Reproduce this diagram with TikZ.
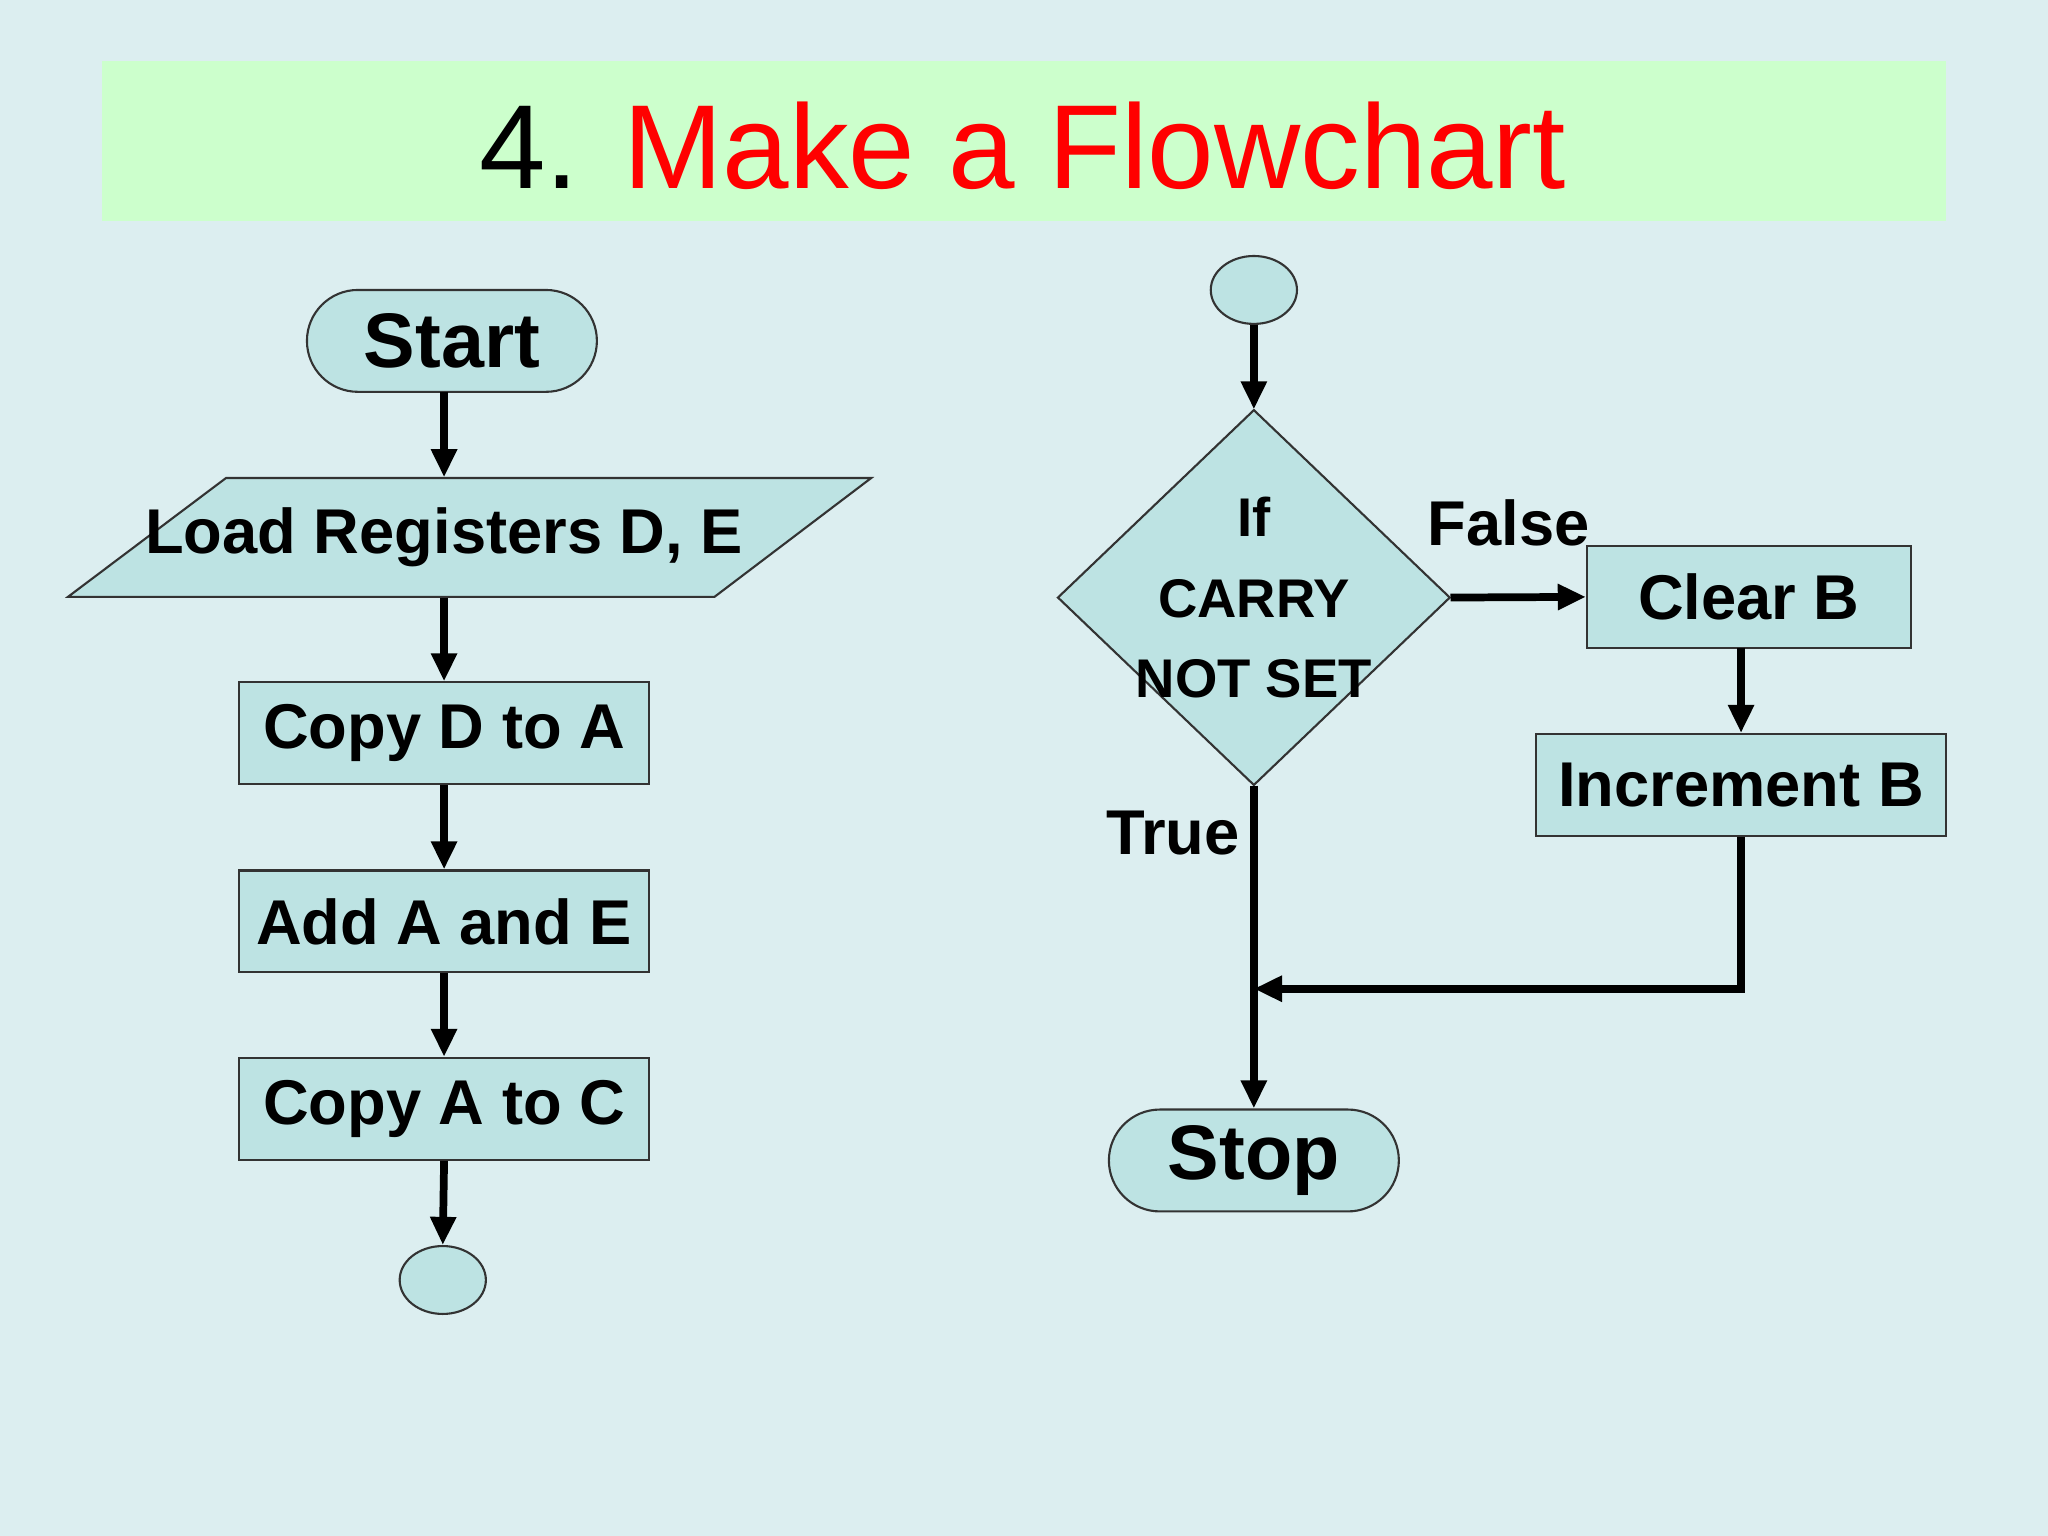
\documentclass[tikz,border=0pt]{standalone}
\usepackage{fontspec}
\setmainfont{Liberation Sans}
\usetikzlibrary{shapes.geometric,arrows.meta}
\definecolor{bg}{HTML}{DCEEF0}
\definecolor{band}{HTML}{CCFFCC}
\definecolor{fillc}{HTML}{BDE3E3}
\begin{document}
\def\u{0.013061cm}
\begin{tikzpicture}[x=0.013061cm,y=-0.013061cm,
  box/.style={draw=black!80,line width=0.6pt,fill=fillc,inner sep=0,font=\bfseries\fontsize{18}{20}\selectfont},
  term/.style={box,rounded corners=39*\u,minimum width=222*\u,minimum height=78*\u,font=\bfseries\fontsize{22}{24}\selectfont},
  proc/.style={box,minimum height=78*\u},
  conn/.style={box,ellipse,minimum width=66*\u,minimum height=52*\u},
  arr/.style={line width=2.2pt,-{Triangle[length=8pt,width=7pt]}},
  lab/.style={font=\bfseries\fontsize{18}{20}\selectfont}]
\fill[bg] (0,0) rectangle (1568,1176);
\useasboundingbox (0,0) rectangle (1568,1176);
\fill[band] (78,47) rectangle (1490,169);
\node (title) at (783,112) {\fontsize{34}{38}\selectfont 4. \textcolor{red}{Make a Flowchart}};
% left
\node[term] (start) at (346,261) {Start};
\draw[draw=black!80,line width=0.6pt,fill=fillc] (173,366) -- (667,366) -- (547,457) -- (52,457) -- cycle;
\node[inner sep=0,minimum width=300*\u,minimum height=91*\u,font=\bfseries\fontsize{18}{20}\selectfont] (load) at (340,411.5) {Load Registers D, E};
\node[proc,minimum width=314*\u] (copyd) at (340,561.5) {Copy D to A};
\node[proc,minimum width=314*\u] (add) at (340,705.5) {Add A and E};
\node[proc,minimum width=314*\u] (copya) at (340,849) {Copy A to C};
\node[conn] (endl) at (339,980) {};
\draw[arr] (340,300) -- (load.north);
\draw[arr] (load.south) -- (copyd.north);
\draw[arr] (copyd.south) -- (add.north);
\draw[arr] (add.south) -- (copya.north);
\draw[arr] (copya.south) -- (endl.north);
% right
\node[conn] (top) at (960,222) {};
\draw[draw=black!80,line width=0.6pt,fill=fillc] (960,314) -- (1110,457.5) -- (960,601) -- (810,457.5) -- cycle;
\node[inner sep=0,minimum width=300*\u,minimum height=287*\u,font=\bfseries\fontsize{15.5}{23}\selectfont,align=center] (dec) at (960,457.5) {If\\ CARRY\\ NOT SET};
\node[proc,minimum width=248*\u] (clr) at (1339,457) {Clear B};
\node[proc,minimum width=314*\u] (inc) at (1333,601) {Increment B};
\node[term] (stop) at (960,888.5) {Stop};
\coordinate (join) at (960,757);
\draw[arr] (top.south) -- (dec.north);
\draw[arr] (dec.east) -- (clr.west);
\draw[arr] (1333,496) -- (inc.north);
\draw[arr] (dec.south) -- (stop.north);
\draw[line width=2.2pt,-{Triangle[length=8pt,width=7pt]}] (inc.south) -- (1333,757) -- (join);
\node[lab] (f) at (1155,400) {False};
\node[lab] (t) at (898,638) {True};
\end{tikzpicture}
\end{document}
